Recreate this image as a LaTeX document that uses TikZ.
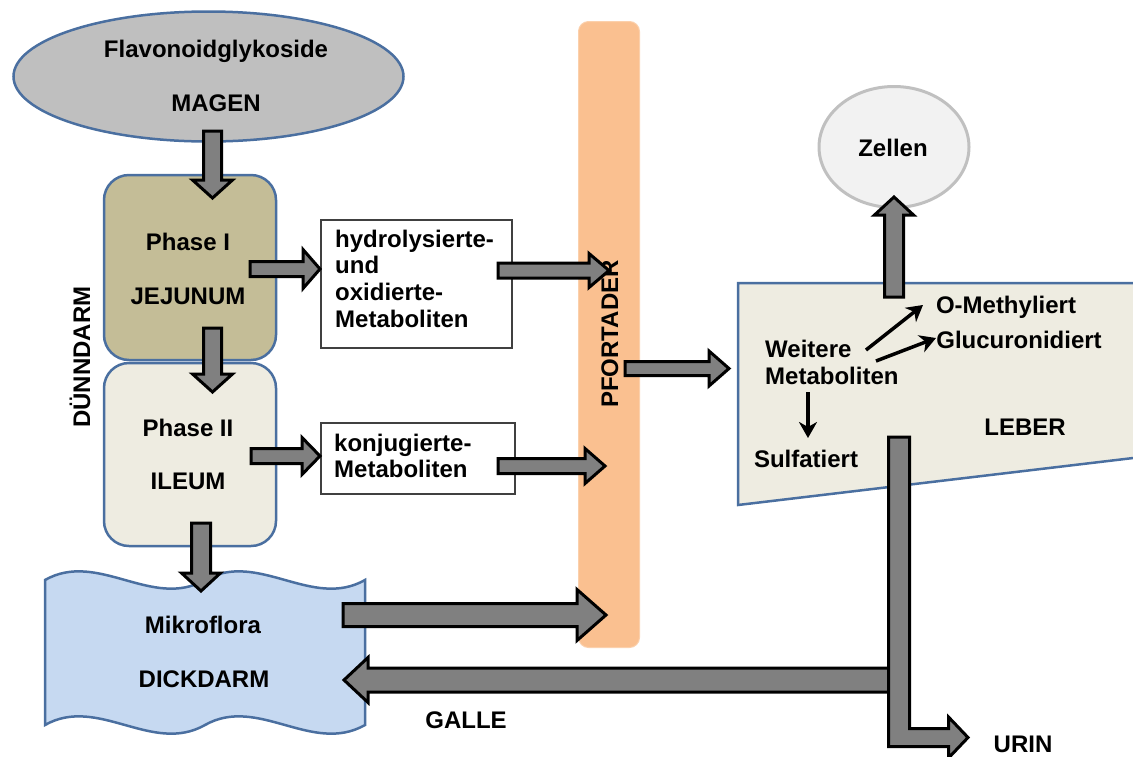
\documentclass[tikz,border=0pt]{standalone}
\usepackage{fontspec}
\setmainfont{Liberation Sans}
\usetikzlibrary{calc,shapes.geometric,arrows.meta}
\definecolor{bord}{HTML}{4A6FA0}
\definecolor{agray}{HTML}{808080}
\definecolor{magenc}{HTML}{BFBFBF}
\definecolor{phaseone}{HTML}{C4BD97}
\definecolor{phasetwo}{HTML}{EEECE1}
\definecolor{mikro}{HTML}{C6D9F1}
\definecolor{pfortc}{HTML}{FAC090}
\definecolor{zellfill}{HTML}{F2F2F2}
\definecolor{zellbord}{HTML}{C0C0C0}
\definecolor{boxbord}{HTML}{404040}
\tikzset{
  arrS/.store in=\arrS, arrH/.store in=\arrH, arrL/.store in=\arrL,
  arrS=8.5pt, arrH=19.5pt, arrL=18pt,
  block/.style={draw=black, fill=agray, line width=3pt, line join=miter,
    to path={
      ($(\tikztostart)!\arrS!90:(\tikztotarget)$) --
      ($(\tikztotarget)!\arrL!(\tikztostart)!\arrS!-90:(\tikztostart)$) --
      ($(\tikztotarget)!\arrL!(\tikztostart)!\arrH!-90:(\tikztostart)$) --
      (\tikztotarget) --
      ($(\tikztotarget)!\arrL!(\tikztostart)!\arrH!90:(\tikztostart)$) --
      ($(\tikztotarget)!\arrL!(\tikztostart)!\arrS!90:(\tikztostart)$) --
      ($(\tikztostart)!\arrS!-90:(\tikztotarget)$) -- cycle}},
  lbl/.style={font=\bfseries\fontsize{24}{26.7}\selectfont, anchor=base, inner sep=0pt},
  organ/.style={draw=bord, line width=2.5pt},
  textbox/.style={draw=boxbord, line width=2pt, fill=white, anchor=north west, inner sep=0pt},
  metarrow/.style={draw=black, line width=3.5pt, -{Stealth[length=16pt,width=18pt,inset=5pt]}}
}
\begin{document}
\begin{tikzpicture}[x=1pt,y=-1pt]
\useasboundingbox (0,0) rectangle (1133,756);

% Pfortader
\node[fill=pfortc, draw=pfortc!75!white, line width=1pt, rounded corners=10pt,
      minimum width=61pt, minimum height=626pt, inner sep=0pt] (pfort) at (609,334.5) {};
\node[lbl, rotate=90] (tpfort) at (618,334) {PFORTADER};

% Magen
\node[ellipse, organ, fill=magenc, minimum width=390pt, minimum height=130pt, inner sep=0pt] (magen) at (208.5,76.5) {};
\node[lbl] (tflav) at (216,57) {Flavonoidglykoside};
\node[lbl] (tmagen) at (216,111) {MAGEN};

% Duenndarm
\node[organ, fill=phasetwo, rounded corners=25pt, minimum width=172pt, minimum height=183pt, inner sep=0pt] (ile) at (190,454.5) {};
\node[organ, fill=phaseone, rounded corners=25pt, minimum width=172pt, minimum height=185pt, inner sep=0pt] (jej) at (190,267.5) {};
\node[lbl] (tp1) at (188,250) {Phase I};
\node[lbl] (tjej) at (188,304) {JEJUNUM};
\node[lbl] (tp2) at (188,436) {Phase II};
\node[lbl] (tile) at (188,489) {ILEUM};
\node[lbl, rotate=90] (tduenn) at (90,357) {DÜNNDARM};

% Dickdarm
\draw[organ, fill=mikro] (45,580) .. controls (98,550) and (152,610) .. (205,580)
   .. controls (258,550) and (312,610) .. (365,580) -- (365,725)
   .. controls (312,755) and (258,695) .. (205,725)
   .. controls (152,755) and (98,695) .. (45,725) -- cycle;
\coordinate (dick) at (205,652);
\node[lbl] (tmikro) at (203,633) {Mikroflora};
\node[lbl] (tdick) at (204,687) {DICKDARM};

% Metabolite boxes
\node[textbox, minimum width=191pt, minimum height=128pt] (hyd) at (320,219) {};
\node[lbl, anchor=base west] (th1) at (335,247) {hydrolysierte-};
\node[lbl, anchor=base west] (th2) at (335,273.7) {und};
\node[lbl, anchor=base west] (th3) at (335,300.4) {oxidierte-};
\node[lbl, anchor=base west] (th4) at (335,327) {Metaboliten};
\node[textbox, minimum width=194pt, minimum height=71pt] (konj) at (320,422) {};
\node[lbl, anchor=base west] (tk1) at (334,451) {konjugierte-};
\node[lbl, anchor=base west] (tk2) at (334,477) {Metaboliten};

% Leber
\draw[organ, fill=phasetwo] (738,283) -- (1145,283) -- (1145,456.6) -- (738,505) -- cycle;
\coordinate (leber) at (935,390);
\node[lbl] (tomet) at (1006,313) {O-Methyliert};
\node[lbl] (tgluc) at (1019,348) {Glucuronidiert};
\node[lbl, anchor=base west] (tweit) at (765,357) {Weitere};
\node[lbl, anchor=base west] (tmeta) at (765,384) {Metaboliten};
\node[lbl] (tsulf) at (806,467) {Sulfatiert};
\node[lbl] (tleber) at (1025,435) {LEBER};

% Zellen
\node[ellipse, draw=zellbord, line width=3pt, fill=zellfill, minimum width=150pt, minimum height=121pt, inner sep=0pt] (zellen) at (894,147) {};
\node[lbl] (tzell) at (893,156) {Zellen};

% other labels
\node[lbl] (tgalle) at (466,728) {GALLE};
\node[lbl] (turin) at (1023,752) {URIN};

% arrows in Leber
\coordinate (w1) at (866,350); \coordinate (m1) at (923,305);
\coordinate (w2) at (876,361); \coordinate (g1) at (936,338);
\coordinate (w3) at (808,392); \coordinate (s1) at (808,438);
\draw[metarrow] (w1) -- (m1);
\draw[metarrow] (w2) -- (g1);
\draw[metarrow] (w3) -- (s1);

% block arrows
\coordinate (a1s) at (212.5,131); \coordinate (a1e) at (212.5,198);
\draw[block, arrS=9pt, arrH=20pt, arrL=18pt] (a1s) to (a1e);
\coordinate (a2s) at (212.5,328); \coordinate (a2e) at (212.5,392);
\draw[block, arrS=9pt, arrH=20pt, arrL=18pt] (a2s) to (a2e);
\coordinate (a3s) at (201,523); \coordinate (a3e) at (201,591);
\draw[block, arrS=9.5pt, arrH=19.5pt, arrL=18pt] (a3s) to (a3e);
\coordinate (a4s) at (250,269); \coordinate (a4e) at (320,269);
\draw[block, arrS=7.5pt, arrH=19.5pt, arrL=17pt] (a4s) to (a4e);
\coordinate (a5s) at (251,456); \coordinate (a5e) at (320,456);
\draw[block, arrS=7.5pt, arrH=18.5pt, arrL=18pt] (a5s) to (a5e);
\coordinate (a6s) at (498,270.5); \coordinate (a6e) at (609,270.5);
\draw[block, arrS=7.5pt, arrH=17pt, arrL=20pt] (a6s) to (a6e);
\coordinate (a7s) at (498,466); \coordinate (a7e) at (605,466);
\draw[block, arrS=7.5pt, arrH=17.5pt, arrL=20pt] (a7s) to (a7e);
\coordinate (a8s) at (343,615); \coordinate (a8e) at (606,615);
\draw[block, arrS=11.5pt, arrH=25.5pt, arrL=29pt] (a8s) to (a8e);
\coordinate (a9s) at (625,368.5); \coordinate (a9e) at (729,368.5);
\draw[block, arrS=7pt, arrH=17.5pt, arrL=20pt] (a9s) to (a9e);
\coordinate (a10s) at (894,297); \coordinate (a10e) at (894,197);
\draw[block, arrS=9.5pt, arrH=19.5pt, arrL=18pt] (a10s) to (a10e);
\coordinate (a11s) at (895,680); \coordinate (a11e) at (344,680);
\draw[block, arrS=12pt, arrH=22.5pt, arrL=24pt] (a11s) to (a11e);
% Urin
\coordinate (u0) at (899,437);
\coordinate (urin) at (968,737.5);
\draw[draw=black, fill=agray, line width=3pt, line join=miter]
  (u0) ++(-10.5,0) -- ++(21,0) -- (909.5,728.5) -- (948.5,728.5) -- (948.5,717)
  -- (urin) -- (948.5,758) -- (948.5,746.5) -- (888.5,746.5) -- cycle;
\end{tikzpicture}
\end{document}
